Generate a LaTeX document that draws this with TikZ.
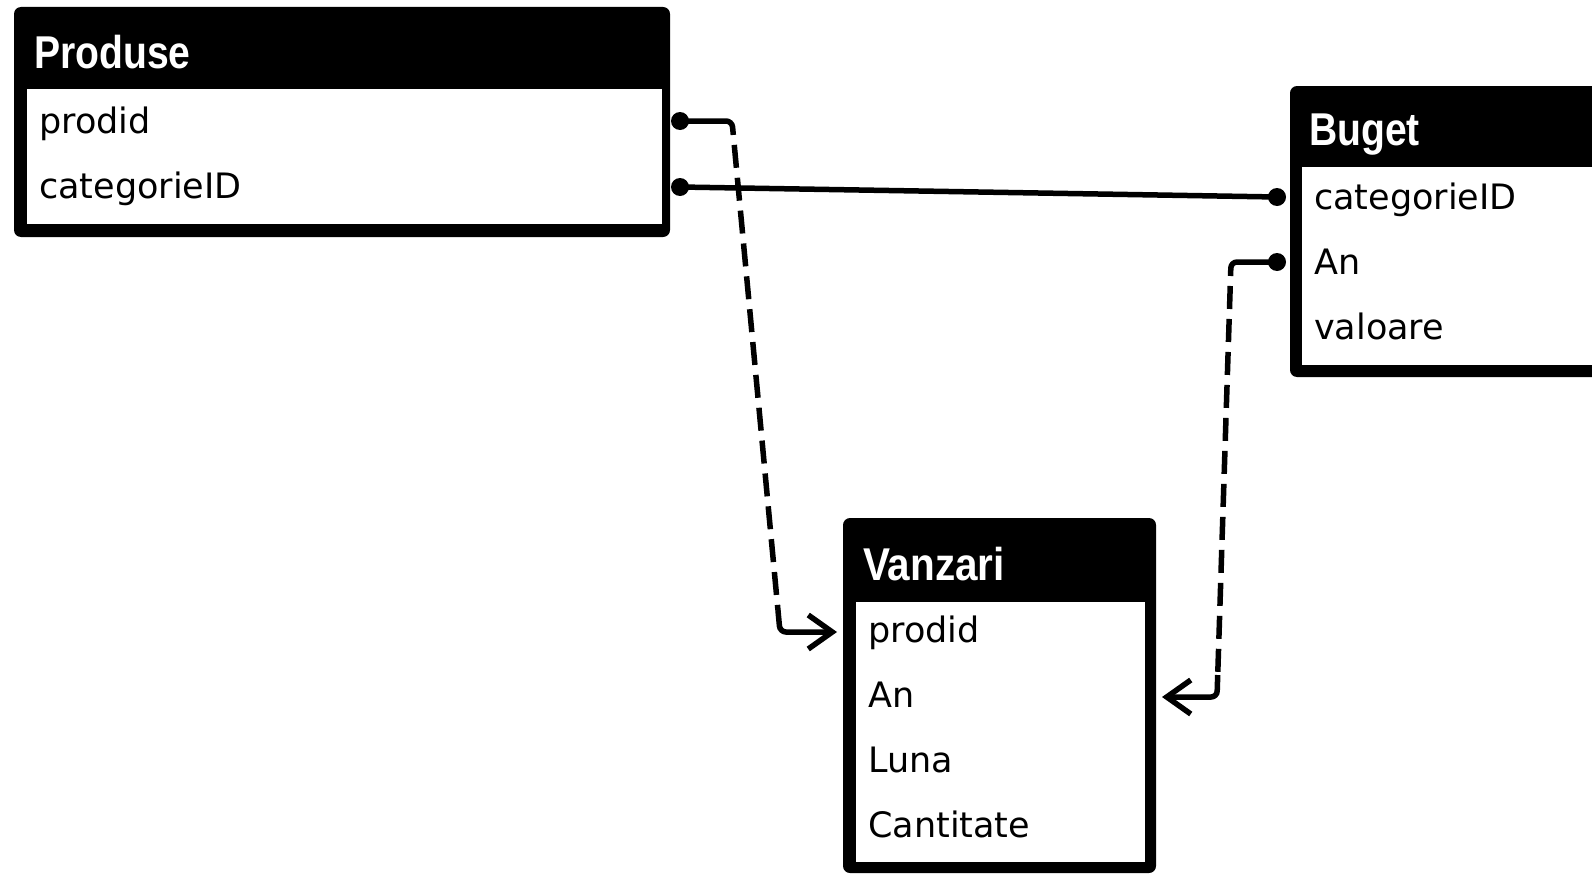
\documentclass[tikz,border=0pt]{standalone}
\usepackage{fontspec}
\usepackage{graphicx}
\setmainfont{DejaVu Sans}
\newfontfamily\titlefont{Liberation Sans}
\usetikzlibrary{arrows.meta,calc}
\begin{document}
\begin{tikzpicture}[x=1pt,y=-1pt,
  tbl/.style={fill=black, rounded corners=7pt, inner sep=0pt, outer sep=0pt, anchor=north west},
  tblbody/.style={fill=white, inner sep=0pt, outer sep=0pt, anchor=north west},
  ttl/.style={text=white, anchor=base west, inner sep=0pt, font=\titlefont\bfseries\fontsize{46}{50}\selectfont},
  fld/.style={anchor=base west, inner sep=0pt, font=\fontsize{35}{40}\selectfont},
  rel/.style={line width=5.5pt},
  dsh/.style={rel, dash pattern=on 23pt off 10pt, dash phase=23pt},
  dotnode/.style={circle, fill=black, inner sep=0pt, minimum size=18pt},
  tip/.style={-{Straight Barb[length=24pt,width=34pt]}}
]
\useasboundingbox (0,0) rectangle (1592,875);
\clip (0,0) rectangle (1592,875);
\fill[white] (0,0) rectangle (1592,875);

% Produse
\node[tbl, minimum width=656pt, minimum height=230pt] (produse) at (14,7) {};
\node[tblbody, minimum width=635pt, minimum height=135pt] (produseb) at (27,89) {};
\node[ttl] (produset) at (34,69) {\scalebox{0.85}[1]{Produse}};
\node[fld] (pprodid) at (39,133) {prodid};
\node[fld] (pcat) at (39,198) {categorieID};

% Buget
\node[tbl, minimum width=360pt, minimum height=291pt] (buget) at (1290,86) {};
\node[tblbody, minimum width=340pt, minimum height=198pt] (bugetb) at (1302,167) {};
\node[ttl] (bugett) at (1309,145) {\scalebox{0.85}[1]{Buget}};
\node[fld] (bcat) at (1314,209) {categorieID};
\node[fld] (ban) at (1314,274) {An};
\node[fld] (bval) at (1314,339) {valoare};

% Vanzari
\node[tbl, minimum width=313pt, minimum height=355pt] (vanzari) at (843,518) {};
\node[tblbody, minimum width=289pt, minimum height=260pt] (vanzarib) at (856,602) {};
\node[ttl] (vanzarit) at (863,580) {\scalebox{0.88}[1]{Vanzari}};
\node[fld] (vprodid) at (868,642) {prodid};
\node[fld] (van) at (868,707) {An};
\node[fld] (vluna) at (868,772) {Luna};
\node[fld] (vcant) at (868,837) {Cantitate};

% endpoints
\node[dotnode] (d1) at ($(produse.east |- pprodid.base)+(10,-12)$) {};
\node[dotnode] (d2) at ($(produse.east |- pcat.base)+(10,-11)$) {};
\node[dotnode] (d3) at ($(buget.west |- bcat.base)+(-13,-12)$) {};
\node[dotnode] (d4) at ($(buget.west |- ban.base)+(-13,-12)$) {};
\coordinate (a1) at ($(vanzari.west |- vprodid.base)+(-6,-10)$);
\coordinate (a3) at ($(vanzari.east |- van.base)+(6,-10)$);

% Produse.prodid -> Vanzari.prodid
\coordinate (c1a) at ($(d1.center)+(52,0)$);
\coordinate (c1b) at (780,632);
\draw[rel, rounded corners=6pt] (d1.center) -- (c1a) -- ($(c1a)!14pt!(c1b)$);
\draw[dsh] ($(c1a)!14pt!(c1b)$) -- ($(c1b)!22pt!(c1a)$);
\draw[rel, rounded corners=6pt, tip] ($(c1b)!22pt!(c1a)$) -- (c1b) -- (a1);

% Produse.categorieID -- Buget.categorieID
\draw[rel] (d2.center) -- (d3.center);

% Buget.An -> Vanzari.An
\coordinate (c3a) at ($(d4.center)+(-46,0)$);
\coordinate (c3b) at (1217,697);
\draw[rel, rounded corners=6pt] (d4.center) -- (c3a) -- ($(c3a)!14pt!(c3b)$);
\draw[dsh] ($(c3a)!14pt!(c3b)$) -- ($(c3b)!22pt!(c3a)$);
\draw[rel, rounded corners=6pt, tip] ($(c3b)!22pt!(c3a)$) -- (c3b) -- (a3);
\end{tikzpicture}
\end{document}
